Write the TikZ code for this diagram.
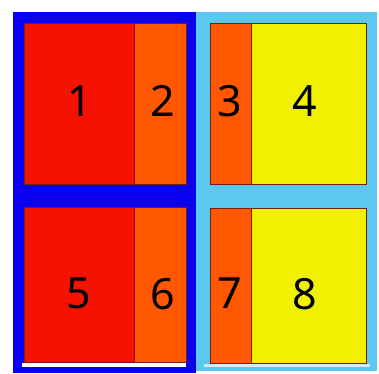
\documentclass[tikz,border=0pt]{standalone}
\usepackage{fontspec}
\setmainfont{Noto Sans}
\definecolor{pblue}{RGB}{10,0,240}
\definecolor{plight}{RGB}{92,200,240}
\definecolor{cred}{RGB}{245,18,0}
\definecolor{corange}{RGB}{255,88,0}
\definecolor{cyellow}{RGB}{240,240,0}
\definecolor{cedge}{RGB}{120,30,10}
\tikzset{
  cell/.style={draw=cedge, line width=0.7pt, inner sep=0pt, outer sep=0pt, anchor=north west},
  panel/.style={inner sep=0pt, outer sep=0pt, anchor=north west},
  num/.style={font=\fontsize{43}{43}\selectfont, inner sep=0pt}
}
\begin{document}
\begin{tikzpicture}[x=1pt,y=-1pt]
\useasboundingbox (0,0) rectangle (379,373);
\fill[white] (0,0) rectangle (379,373);
% panels
\node[panel, fill=pblue, minimum width=183pt, minimum height=361pt] (lp) at (13,12) {};
\node[panel, fill=plight, minimum width=181pt, minimum height=359pt] (rp) at (196,12) {};
\node[panel, fill=white, minimum width=164pt, minimum height=4pt] (lw) at (22,363) {};
\node[panel, fill=white!70!plight, minimum width=166pt, minimum height=3pt] (rw) at (204,364) {};
% cells
\node[cell, fill=cred, minimum width=110pt, minimum height=161pt] (c1) at (24,23) {};
\node[cell, fill=corange, minimum width=52pt, minimum height=161pt] (c2) at (134,23) {};
\node[cell, fill=corange, minimum width=41pt, minimum height=161pt] (c3) at (210,23) {};
\node[cell, fill=cyellow, minimum width=115pt, minimum height=161pt] (c4) at (251,23) {};
\node[cell, fill=cred, minimum width=110pt, minimum height=155pt] (c5) at (24,207) {};
\node[cell, fill=corange, minimum width=52pt, minimum height=155pt] (c6) at (134,207) {};
\node[cell, fill=corange, minimum width=41pt, minimum height=155pt] (c7) at (210,208) {};
\node[cell, fill=cyellow, minimum width=115pt, minimum height=155pt] (c8) at (251,208) {};
% labels
\node[num] (n1) at (80,101) {1};
\node[num] (n2) at (163,101) {2};
\node[num] (n3) at (230,101) {3};
\node[num] (n4) at (305,101) {4};
\node[num] (n5) at (79,293) {5};
\node[num] (n6) at (163,294) {6};
\node[num] (n7) at (230,293) {7};
\node[num] (n8) at (305,294) {8};
\end{tikzpicture}
\end{document}
